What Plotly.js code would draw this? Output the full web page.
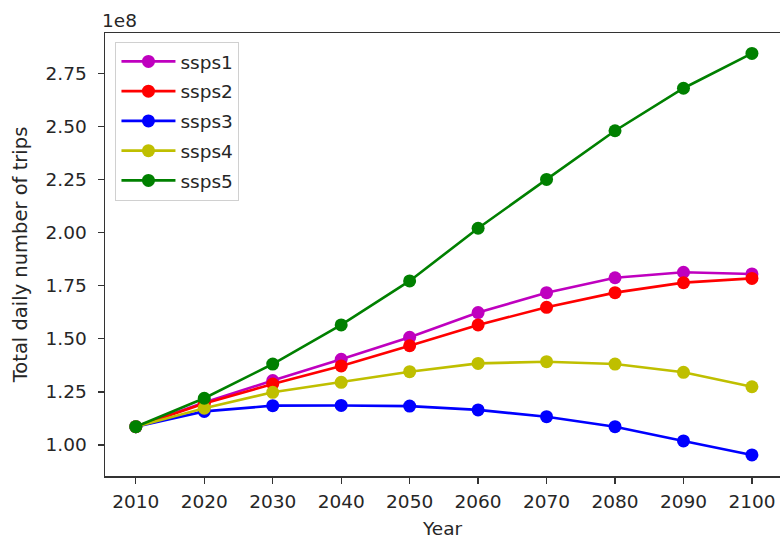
<!DOCTYPE html>
<html>
<head>
<meta charset="utf-8">
<script src="https://cdn.plot.ly/plotly-3.0.1.min.js"></script>
<style>
  html, body { margin: 0; padding: 0; background: #fff; overflow: hidden; }
  #chart { width: 780px; height: 543px; }
</style>
</head>
<body>
<div id="chart"></div>
<script>
// Total daily trips per scenario, in units of 1e8 trips
const years = [2010, 2020, 2030, 2040, 2050, 2060, 2070, 2080, 2090, 2100];
const ssps1 = [1.086, 1.200, 1.303, 1.403, 1.507, 1.623, 1.717, 1.787, 1.813, 1.805];
const ssps2 = [1.086, 1.195, 1.287, 1.372, 1.467, 1.565, 1.648, 1.717, 1.764, 1.784];
const ssps3 = [1.086, 1.158, 1.185, 1.186, 1.183, 1.165, 1.133, 1.086, 1.019, 0.953];
const ssps4 = [1.086, 1.173, 1.248, 1.295, 1.345, 1.384, 1.392, 1.381, 1.342, 1.274];
const ssps5 = [1.086, 1.220, 1.381, 1.565, 1.772, 2.020, 2.250, 2.479, 2.679, 2.843];

const seriesNames = ['ssps1', 'ssps2', 'ssps3', 'ssps4', 'ssps5'];
const seriesValues = [ssps1, ssps2, ssps3, ssps4, ssps5];
const seriesColors = ['#bf00bf', '#ff0000', '#0000ff', '#bfbf00', '#008000'];

const yTicks = [1.00, 1.25, 1.50, 1.75, 2.00, 2.25, 2.50, 2.75];
const xTicks = years;

const font = 'DejaVu Sans, Verdana, sans-serif';
const textColor = '#262626';
const fs = 18.5;

const traces = seriesNames.map((name, i) => ({
  x: years,
  y: seriesValues[i],
  name: name,
  legendgroup: name,
  type: 'scatter',
  mode: 'lines+markers',
  line: { color: seriesColors[i], width: 2.6 },
  marker: { color: seriesColors[i], size: 13 },
  hoverinfo: 'x+y+name'
}));

const layout = {
  width: 780,
  height: 543,
  margin: { l: 104.5, r: 0, t: 33, b: 67, pad: 0 },
  paper_bgcolor: '#ffffff',
  plot_bgcolor: '#ffffff',
  font: { family: font, size: fs, color: textColor },
  showlegend: true,
  legend: {
    x: 0.0155, y: 0.98, xanchor: 'left', yanchor: 'top',
    bgcolor: 'rgba(255,255,255,0.9)',
    bordercolor: '#d0d0d0', borderwidth: 1,
    font: { family: font, size: fs, color: textColor },
    tracegroupgap: 2.7,
    itemwidth: 54
  },
  xaxis: {
    range: [2005.5, 2104.1],
    tickvals: xTicks,
    ticktext: xTicks.map(String),
    showgrid: false, zeroline: false,
    showline: true, linecolor: '#333333', linewidth: 1.5, mirror: true,
    ticks: 'outside', ticklen: 6, tickwidth: 1.3, tickcolor: '#333333',
    ticklabelstandoff: 2,
    tickfont: { family: font, size: fs, color: textColor },
    title: { text: 'Year', font: { family: font, size: fs, color: textColor }, standoff: 11 }
  },
  yaxis: {
    range: [0.854, 2.939],
    tickvals: yTicks,
    ticktext: yTicks.map(v => v.toFixed(2)),
    showgrid: false, zeroline: false,
    showline: true, linecolor: '#333333', linewidth: 1.5, mirror: false,
    ticks: 'outside', ticklen: 6, tickwidth: 1.3, tickcolor: '#333333',
    ticklabelstandoff: 7,
    tickfont: { family: font, size: fs, color: textColor },
    title: { text: 'Total daily number of trips', font: { family: font, size: 19.5, color: textColor }, standoff: 13 }
  },
  annotations: [{
    text: '1e8', xref: 'paper', yref: 'paper', x: 0, y: 1,
    xanchor: 'left', yanchor: 'bottom', yshift: 0, xshift: -5, showarrow: false,
    font: { family: font, size: fs, color: textColor }
  }]
};

Plotly.newPlot('chart', traces, layout, { displayModeBar: false, staticPlot: true });
</script>
</body>
</html>
